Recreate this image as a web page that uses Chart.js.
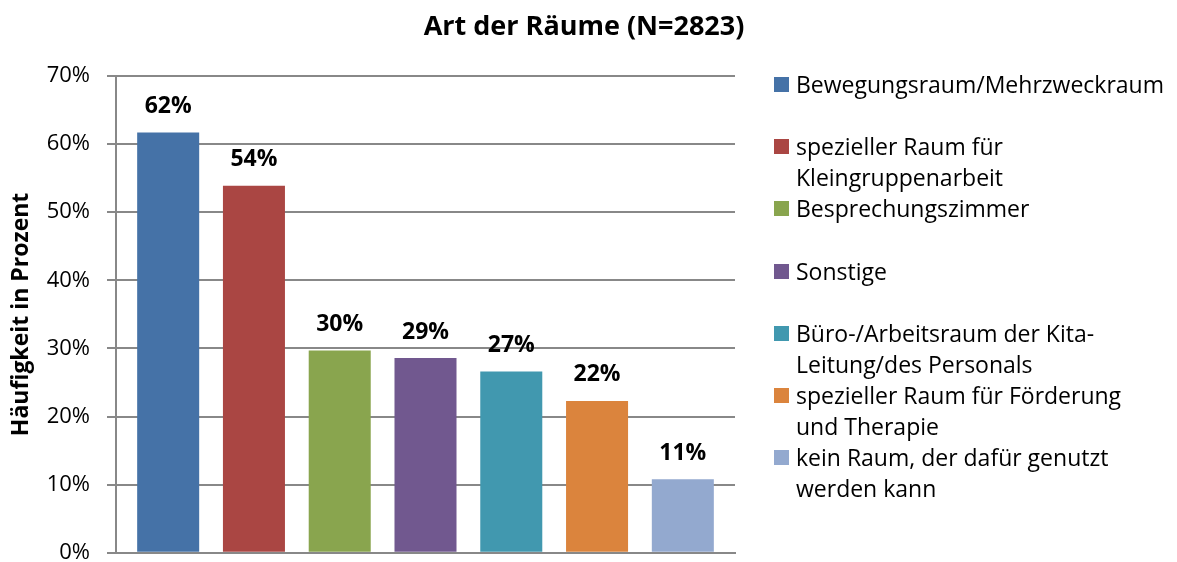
<!DOCTYPE html>
<html>
<head>
<meta charset="utf-8">
<script src="https://cdn.jsdelivr.net/npm/chart.js@4"></script>
<style>
body { margin: 0; background: #fff; }
#wrap { position: relative; width: 1177px; height: 562px; overflow: hidden; }
#legend { position: absolute; left: 774px; top: 69px; font-family: 'Open Sans', sans-serif; font-size: 23px; color: #000; }
.item { position: relative; height: 62.2px; padding-left: 22px; line-height: 31px; white-space: nowrap; }
.box { position: absolute; left: 0; top: 8px; width: 15px; height: 15px; }
</style>
</head>
<body>
<div id="wrap">
  <!-- canvas is a bit taller than the page so the plot reaches down like the original -->
  <canvas id="chart" width="1177" height="583"></canvas>
  <div id="legend"></div>
</div>
<script>
// data
const categories = [
    'Bewegungsraum/Mehrzweckraum',
    'spezieller Raum für Kleingruppenarbeit',
    'Besprechungszimmer',
    'Sonstige',
    'Büro-/Arbeitsraum der Kita-Leitung/des Personals',
    'spezieller Raum für Förderung und Therapie',
    'kein Raum, der dafür genutzt werden kann'
];
// legend lines as wrapped in the original
const legendLines = [
    ['Bewegungsraum/Mehrzweckraum'],
    ['spezieller Raum für', 'Kleingruppenarbeit'],
    ['Besprechungszimmer'],
    ['Sonstige'],
    ['Büro-/Arbeitsraum der Kita-', 'Leitung/des Personals'],
    ['spezieller Raum für Förderung', 'und Therapie'],
    ['kein Raum, der dafür genutzt', 'werden kann']
];
const values = [61.7, 53.9, 29.7, 28.6, 26.6, 22.3, 10.8];
const valueLabels = ['62%', '54%', '30%', '29%', '27%', '22%', '11%'];
const colors = ['#4572A7', '#AA4643', '#89A54E', '#71588F', '#4198AF', '#DB843D', '#93A9CF'];
const titleText = 'Art der Räume (N=2823)';

Chart.defaults.font.family = "'Open Sans', sans-serif";
Chart.defaults.color = '#000';

const gridColor = '#888888';

// title (centred like the original, not over the plot only) and percent labels
const extras = {
    id: 'extras',
    afterDatasetsDraw(chart) {
        const ctx = chart.ctx;
        ctx.save();
        ctx.fillStyle = '#000';
        ctx.textAlign = 'center';
        ctx.textBaseline = 'middle';
        ctx.font = "bold 23px 'Open Sans', sans-serif";
        chart.data.datasets.forEach((ds, i) => {
            const bar = chart.getDatasetMeta(i).data[0];
            ctx.fillText(valueLabels[i], bar.x, bar.y - 26);
        });
        ctx.font = "bold 27px 'Open Sans', sans-serif";
        ctx.fillText(titleText, 584, 27);
        ctx.restore();
    }
};

const ctx = document.getElementById('chart').getContext('2d');
new Chart(ctx, {
    type: 'bar',
    data: {
        labels: [''],
        datasets: categories.map((c, i) => ({
            label: c,
            data: [values[i]],
            backgroundColor: colors[i],
            categoryPercentage: 0.97,
            barPercentage: 0.723
        }))
    },
    options: {
        responsive: false,
        animation: false,
        layout: { padding: { left: 0, right: 442, top: 76, bottom: 0 } },
        plugins: {
            legend: { display: false },
            tooltip: { enabled: false },
            title: { display: false }
        },
        scales: {
            x: {
                grid: { display: false },
                ticks: { display: false },
                border: { display: true, color: gridColor, width: 2 },
                afterFit(scale) { scale.height = 10; }
            },
            y: {
                min: 0,
                max: 70,
                ticks: {
                    stepSize: 10,
                    padding: 17,
                    font: { size: 22 },
                    color: '#000',
                    callback: v => v + '%'
                },
                grid: { color: gridColor, lineWidth: 2, tickLength: 9 },
                border: { color: gridColor, width: 2 },
                title: {
                    display: true,
                    text: 'Häufigkeit in Prozent',
                    font: { size: 23, weight: 'bold' },
                    color: '#000',
                    padding: { top: 8, bottom: 0 }
                },
                afterFit(scale) { scale.width = 116; }
            }
        }
    },
    plugins: [extras]
});

// legend with wrapped entries
const legend = document.getElementById('legend');
legendLines.forEach((lines, i) => {
    const item = document.createElement('div');
    item.className = 'item';
    const box = document.createElement('span');
    box.className = 'box';
    box.style.background = colors[i];
    item.appendChild(box);
    lines.forEach(t => {
        const line = document.createElement('div');
        line.textContent = t;
        item.appendChild(line);
    });
    legend.appendChild(item);
});
</script>
</body>
</html>
